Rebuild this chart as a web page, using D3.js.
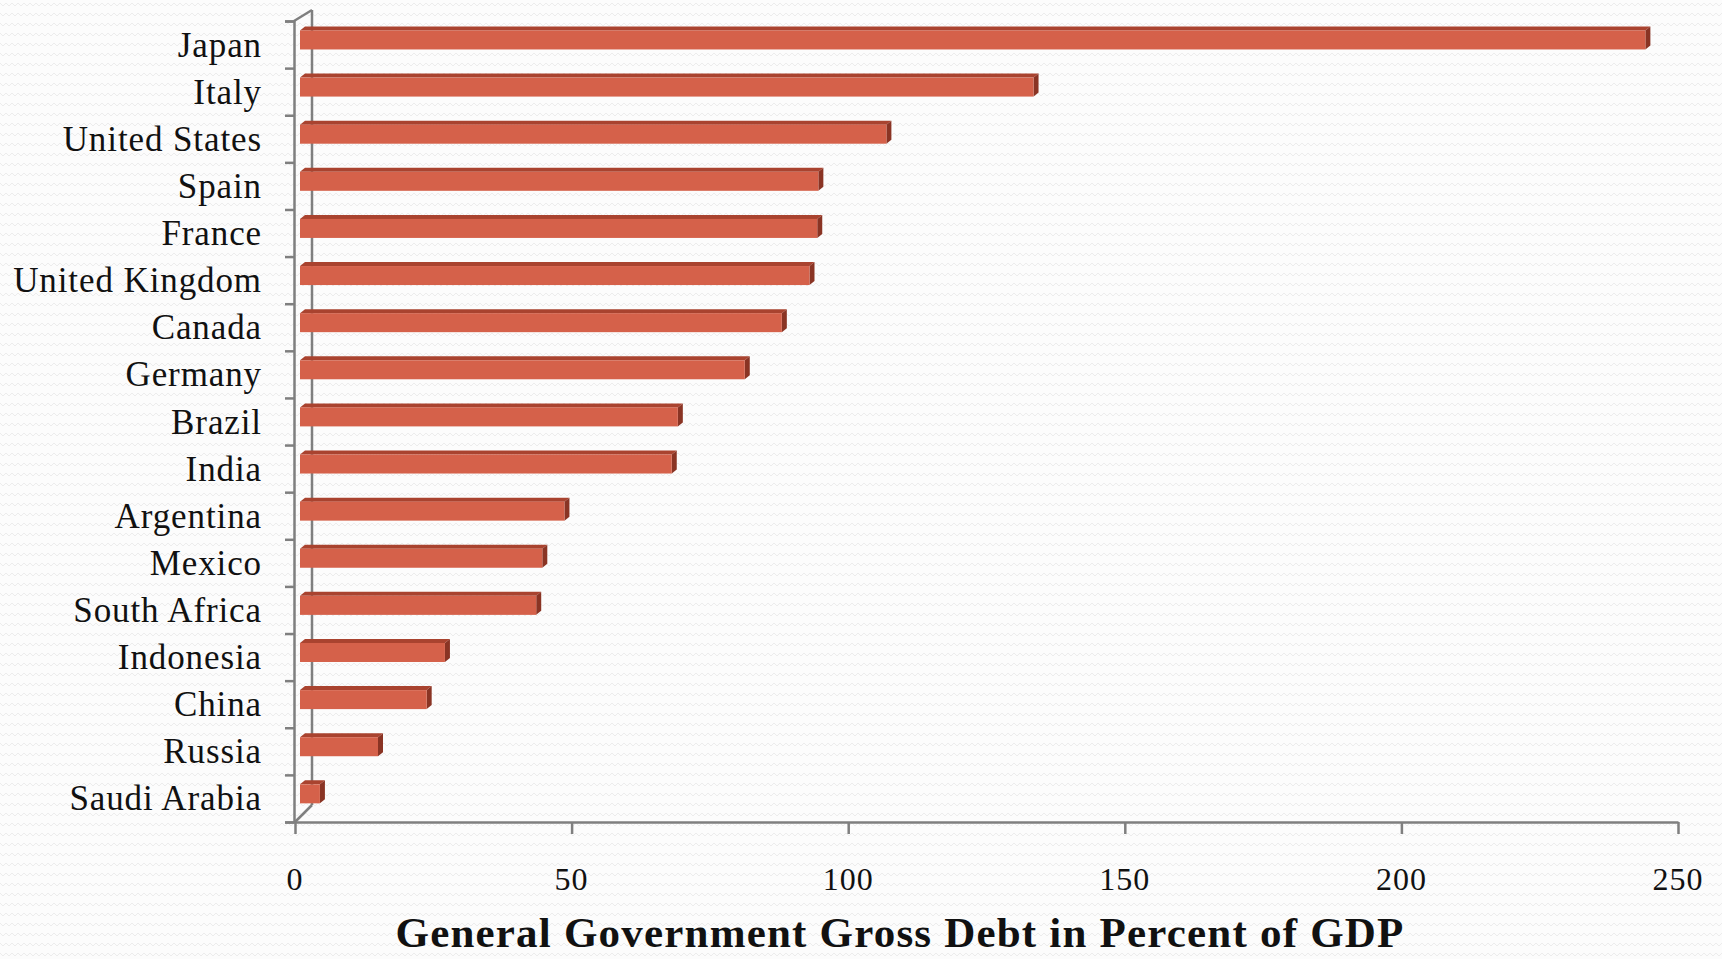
<!DOCTYPE html>
<html>
<head>
<meta charset="utf-8">
<script src="https://cdn.jsdelivr.net/npm/d3@7"></script>
<style>
  html, body { margin: 0; padding: 0; background: #fbfbfb; }
  svg { display: block; }
</style>
</head>
<body>
<svg id="chart" width="1722" height="959"></svg>
<script>
const categories = ["Japan","Italy","United States","Spain","France","United Kingdom","Canada","Germany","Brazil","India","Argentina","Mexico","South Africa","Indonesia","China","Russia","Saudi Arabia"];
const values = [243.2,132.6,106.0,93.7,93.5,92.1,87.1,80.4,68.3,67.2,47.8,43.8,42.7,26.2,22.9,14.1,3.6];
const xTicks = [0,50,100,150,200,250];
const xTitle = "General Government Gross Debt in Percent of GDP";

const W = 1722, H = 959;
const svg = d3.select("#chart");

// background pattern (subtle zigzag)
const defs = svg.append("defs");
const pat = defs.append("pattern").attr("id","zig").attr("patternUnits","userSpaceOnUse")
  .attr("width",6).attr("height",10);
pat.append("rect").attr("width",6).attr("height",10).attr("fill","#fcfcfc");
pat.append("path").attr("d","M0,3 L3,6 L6,3").attr("fill","none").attr("stroke","#ececec").attr("stroke-width",1);
svg.append("rect").attr("width",W).attr("height",H).attr("fill","url(#zig)");

const x = d3.scaleLinear().domain([0,250]).range([295,1678]);
const y = d3.scaleBand().domain(categories).range([21,822]);
const yIdx = d3.scaleLinear().domain([0,categories.length]).range([21,822]);

const axisColor = "#7f7f7f";
const dx = 5, dy = -4;      // depth offset of bars
const faceH = 19;           // front face height
const shiftX = 5, shiftY = -4.6; // floor offset of bars

// back wall line and diagonals
const g = svg.append("g");
g.append("line").attr("x1",312).attr("y1",10).attr("x2",312).attr("y2",805)
  .attr("stroke",axisColor).attr("stroke-width",2.5);
g.append("line").attr("x1",294).attr("y1",21).attr("x2",312).attr("y2",10)
  .attr("stroke",axisColor).attr("stroke-width",2.5);
g.append("line").attr("x1",295).attr("y1",822).attr("x2",312).attr("y2",805)
  .attr("stroke",axisColor).attr("stroke-width",2.5);

// left (category) axis with ticks at band boundaries
const leftAxis = g.append("g").attr("transform","translate(294,0)")
  .call(d3.axisLeft(yIdx).ticks(categories.length).tickSize(9).tickFormat(""));
leftAxis.selectAll("path,line").attr("stroke",axisColor).attr("stroke-width",2.5);

// bottom axis
const bottomAxis = g.append("g").attr("transform","translate(0,822)")
  .call(d3.axisBottom(x).tickValues(xTicks).tickSize(12).tickSizeOuter(0).tickFormat(""));
bottomAxis.selectAll("path,line").attr("stroke",axisColor).attr("stroke-width",2.5);

// x tick labels
g.selectAll("text.xt").data(xTicks).join("text").attr("class","xt")
  .attr("x",d => x(d)).attr("y",890)
  .attr("text-anchor","middle")
  .attr("font-family","'Liberation Serif', serif").attr("font-size",32)
  .attr("letter-spacing",1)
  .attr("fill","#111")
  .text(d => d);

// category labels
g.selectAll("text.cat").data(categories).join("text").attr("class","cat")
  .attr("x",262).attr("y",d => y(d) + y.bandwidth()/2 + 12)
  .attr("text-anchor","end")
  .attr("font-family","'Liberation Serif', serif").attr("font-size",35)
  .attr("letter-spacing",0.9)
  .attr("fill","#111")
  .text(d => d);

// bars
const data = categories.map((c,i) => ({c, v: values[i]}));
const bars = svg.append("g").selectAll("g.bar").data(data).join("g").attr("class","bar");
bars.each(function(d){
  const gb = d3.select(this);
  const x0 = x(0) + shiftX, x1 = x(d.v) + shiftX;
  const yt = y(d.c) + y.bandwidth()/2 + shiftY - faceH/2;
  const yb = yt + faceH;
  gb.append("polygon")
    .attr("points", [[x0,yt],[x0+dx,yt+dy],[x1+dx,yt+dy],[x1,yt]].map(p=>p.join(",")).join(" "))
    .attr("fill","#a9432f");
  gb.append("polygon")
    .attr("points", [[x1,yt],[x1+dx,yt+dy],[x1+dx,yb+dy],[x1,yb]].map(p=>p.join(",")).join(" "))
    .attr("fill","#8a3424");
  gb.append("rect").attr("x",x0).attr("y",yt).attr("width",x1-x0).attr("height",faceH)
    .attr("fill","#d5614a");
});

// axis title
svg.append("text").attr("x",900).attr("y",947).attr("text-anchor","middle")
  .attr("font-family","'Liberation Serif', serif").attr("font-size",43).attr("font-weight","bold")
  .attr("letter-spacing",1.2)
  .attr("fill","#111")
  .text(xTitle);
</script>
</body>
</html>
